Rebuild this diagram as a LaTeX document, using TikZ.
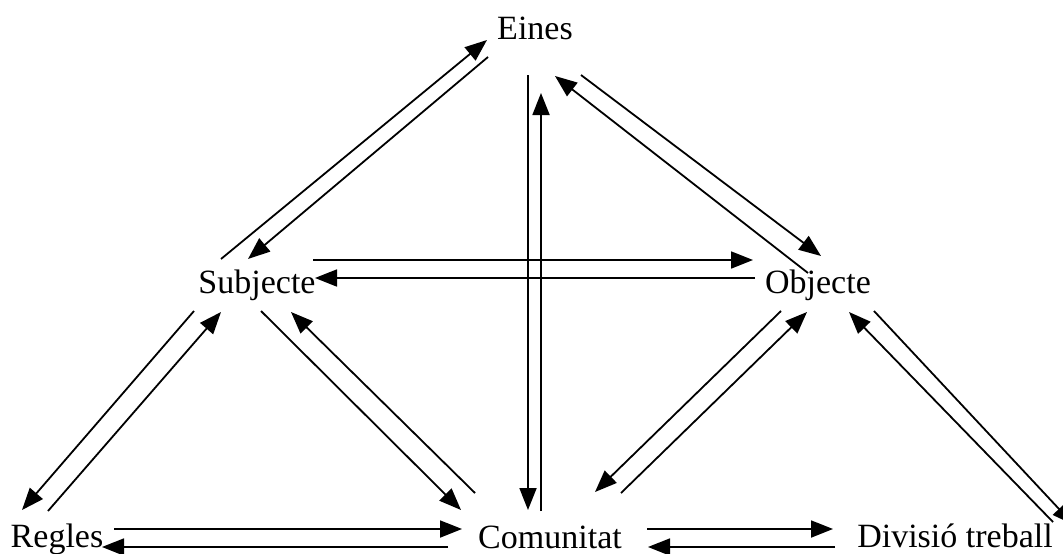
\documentclass[tikz,border=0pt]{standalone}
\usepackage{fontspec}
\setmainfont{Liberation Serif}
\usetikzlibrary{arrows.meta}
\begin{document}
\begin{tikzpicture}[x=1pt,y=-1pt,
  lbl/.style={font=\fontsize{34}{40}\selectfont, inner sep=0pt, anchor=base},
  conn/.style={line width=1.8pt, -{Triangle[length=22pt,width=17pt]}}]
\useasboundingbox (0,0) rectangle (1063,554);
\clip (0,0) rectangle (1063,554);
% labels
\node[lbl] (eines) at (535,39) {Eines};
\node[lbl] (subj) at (257,293) {Subjecte};
\node[lbl] (obj) at (818,293) {Objecte};
\node[lbl] (regl) at (57,547) {Regles};
\node[lbl] (comu) at (550,548) {Comunitat};
\node[lbl] (divi) at (955,547) {Divisió treball};
% connector end points
\coordinate (a1s) at (221,259); \coordinate (a1e) at (487,40);
\coordinate (a2s) at (488,57);  \coordinate (a2e) at (248,259);
\coordinate (a3s) at (528,75);  \coordinate (a3e) at (528,510);
\coordinate (a4s) at (541,511); \coordinate (a4e) at (541,93);
\coordinate (a5s) at (581,75);  \coordinate (a5e) at (821,256);
\coordinate (a6s) at (808,273); \coordinate (a6e) at (555,76);
\coordinate (a7s) at (313,260); \coordinate (a7e) at (753,260);
\coordinate (a8s) at (755,278); \coordinate (a8e) at (315,278);
\coordinate (a9s) at (194,311); \coordinate (a9e) at (22,510);
\coordinate (a10s) at (48,511); \coordinate (a10e) at (221,312);
\coordinate (a11s) at (261,311); \coordinate (a11e) at (461,510);
\coordinate (a12s) at (475,493); \coordinate (a12e) at (291,312);
\coordinate (a13s) at (114,529); \coordinate (a13e) at (462,529);
\coordinate (a14s) at (448,547); \coordinate (a14e) at (102,547);
\coordinate (a15s) at (781,311); \coordinate (a15e) at (595,492);
\coordinate (a16s) at (621,493); \coordinate (a16e) at (807,312);
\coordinate (a17s) at (647,529); \coordinate (a17e) at (833,529);
\coordinate (a18s) at (835,547); \coordinate (a18e) at (648,547);
\coordinate (a19s) at (874,311); \coordinate (a19e) at (1074,525);
\coordinate (a20s) at (1053,522); \coordinate (a20e) at (849,312);
% connectors
\foreach \i in {1,...,20}{\draw[conn] (a\i s) -- (a\i e);}
\end{tikzpicture}
\end{document}
